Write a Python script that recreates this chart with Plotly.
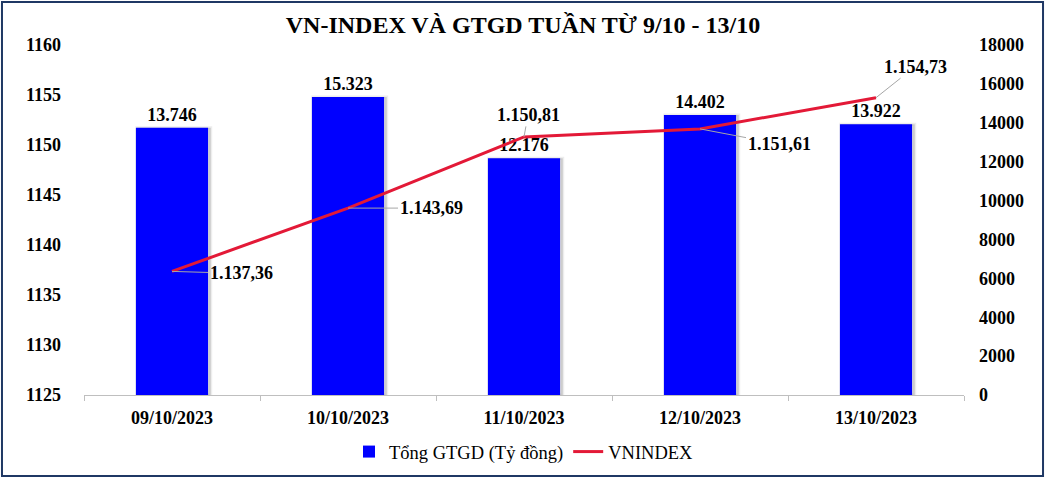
import plotly.graph_objects as go

dates = ["09/10/2023", "10/10/2023", "11/10/2023", "12/10/2023", "13/10/2023"]
gtgd = [13746, 15323, 12176, 14402, 13922]
gtgd_labels = ["13.746", "15.323", "12.176", "14.402", "13.922"]
vnindex = [1137.36, 1143.69, 1150.81, 1151.61, 1154.73]
vnindex_labels = ["1.137,36", "1.143,69", "1.150,81", "1.151,61", "1.154,73"]
label_offsets = [(69, 2), (83, 0), (4, -22), (79, 15), (39, -31)]

FONT = "Liberation Serif"
fig = go.Figure()

# soft shadow behind bars
fig.add_trace(go.Bar(
    x=dates, y=gtgd, yaxis="y", showlegend=False, hoverinfo="skip",
    marker=dict(color="rgba(0,0,0,0.15)", line=dict(width=3, color="rgba(0,0,0,0.07)")),
    width=0.42, offset=-0.20,
))
fig.add_trace(go.Bar(
    x=dates, y=gtgd, name="Tổng GTGD (Tỷ đồng)", yaxis="y",
    marker=dict(color="#0000FF", line=dict(width=0)), width=0.41, offset=-0.205,
    text=gtgd_labels, textposition="outside", cliponaxis=False,
    textfont=dict(family=FONT, size=18, color="black", weight="bold"),
))
fig.add_trace(go.Scatter(
    x=dates, y=vnindex, name="VNINDEX", mode="lines", yaxis="y2",
    line=dict(color="#E31937", width=3),
))

for d, v, t, (ax, ay) in zip(dates, vnindex, vnindex_labels, label_offsets):
    fig.add_annotation(
        x=d, y=v, xref="x", yref="y2", text=t, showarrow=True,
        arrowhead=0, arrowwidth=1, arrowcolor="#A6A6A6", ax=ax, ay=ay,
        font=dict(family=FONT, size=18, color="black", weight="bold"),
        standoff=0, startstandoff=0,
    )

# outer border
fig.add_shape(type="rect", xref="paper", yref="paper",
              x0=-0.0932, x1=1.0898, y0=-0.2314, y1=1.1229,
              line=dict(color="#1F3864", width=2), layer="below")

tickfont = dict(family=FONT, size=18, weight="bold", color="black")
fig.update_layout(
    width=1046, height=479,
    margin=dict(l=84, r=82, t=45, b=84, autoexpand=False),
    paper_bgcolor="white", plot_bgcolor="white",
    title=dict(text="<b>VN-INDEX VÀ GTGD TUẦN TỪ 9/10 - 13/10</b>", x=0.5, xanchor="center",
               y=0.948, yanchor="middle",
               font=dict(family=FONT, size=24, color="black")),
    font=dict(family=FONT, color="black"),
    barmode="overlay",
    xaxis=dict(showline=True, linecolor="#BFBFBF", linewidth=1, ticks="outside",
               tickson="boundaries", ticklen=5, tickcolor="#BFBFBF", automargin=False,
               tickfont=tickfont, showgrid=False, ticklabelstandoff=6),
    yaxis=dict(range=[0, 18000], dtick=2000, side="right", tickformat="d",
               showgrid=False, zeroline=False, automargin=False,
               tickfont=tickfont, ticklabelstandoff=14),
    yaxis2=dict(range=[1125, 1160], dtick=5, overlaying="y", side="left",
                showgrid=False, zeroline=False, automargin=False,
                tickfont=tickfont, ticklabelstandoff=22),
    legend=dict(orientation="h", x=0.5, xanchor="center", y=-0.163, yanchor="middle",
                font=dict(family=FONT, size=18.5), traceorder="normal"),
)

fig.write_html("out.html", config={"displayModeBar": False},
               post_script="document.body.style.margin='0';document.body.style.overflow='hidden';")
